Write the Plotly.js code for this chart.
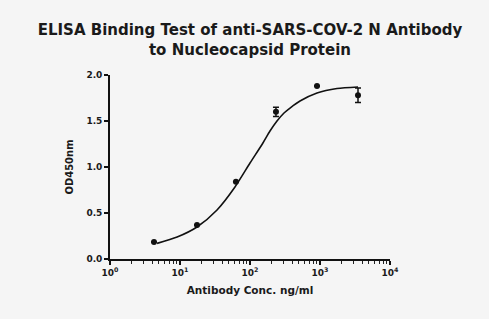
<!DOCTYPE html>
<html>
<head>
<meta charset="utf-8">
<script src="https://cdn.plot.ly/plotly-3.0.1.min.js"></script>
<style>html,body{margin:0;padding:0;background:#f5f5f5;}#chart{width:489px;height:319px;}</style>
</head>
<body>
<div id="chart"></div>
<script>
// Measured points (antibody concentration, ng/ml) and OD450nm
const concentrations = [4.25, 17.5, 63, 235, 906, 3490];
const od450 = [0.185, 0.37, 0.84, 1.60, 1.88, 1.78];
const odError = [0, 0, 0, 0.05, 0, 0.08];

// Fitted curve
const fitConc = [4.7, 9.1, 17.5, 33.8, 61, 100, 153, 193, 243, 306, 373, 518, 906, 1750, 3490];
const fitOD = [0.170, 0.239, 0.348, 0.533, 0.783, 1.043, 1.261, 1.391, 1.500, 1.587, 1.641, 1.717, 1.804, 1.853, 1.870];

const xTickVals = [1, 10, 100, 1000, 10000];
const xTickText = ['10<sup>0</sup>', '10<sup>1</sup>', '10<sup>2</sup>', '10<sup>3</sup>', '10<sup>4</sup>'];
const minorMultipliers = [2, 3, 4, 5, 6, 7, 8, 9];
const yTickVals = [0, 0.5, 1.0, 1.5, 2.0];

const minorVals = [];
xTickVals.slice(0, -1).forEach(d => minorMultipliers.forEach(m => minorVals.push(d * m)));

const fontFam = 'DejaVu Sans, Arial, sans-serif';

const traces = [
  {
    x: fitConc, y: fitOD, type: 'scatter', mode: 'lines',
    line: {color: '#111', width: 1.6, shape: 'spline', smoothing: 0.7},
    hoverinfo: 'skip', showlegend: false
  },
  {
    x: concentrations, y: od450, type: 'scatter', mode: 'markers',
    marker: {color: '#111', size: 6, symbol: 'circle'},
    error_y: {type: 'data', array: odError, visible: true, color: '#111', thickness: 1.5, width: 3},
    showlegend: false
  }
];

const layout = {
  width: 489, height: 319,
  margin: {l: 110, r: 99, t: 75, b: 60},
  paper_bgcolor: '#f5f5f5', plot_bgcolor: '#f5f5f5',
  font: {family: fontFam, color: '#1a1a1a'},
  title: {
    text: '<b>ELISA Binding Test of anti-SARS-COV-2 N Antibody<br>to Nucleocapsid Protein</b>',
    font: {family: fontFam, size: 15, color: '#1a1a1a'},
    x: 0.5, xanchor: 'center', xref: 'paper', y: 0.89, yanchor: 'top'
  },
  xaxis: {
    type: 'log', range: [0, 4],
    tickvals: xTickVals, ticktext: xTickText,
    ticks: 'outside', ticklen: 4, tickwidth: 1.5, tickcolor: '#111',
    minor: {tickvals: minorVals, ticks: 'outside', ticklen: 3, tickwidth: 1, tickcolor: '#222', showgrid: false},
    showline: true, linecolor: '#111', linewidth: 1.8,
    showgrid: false, zeroline: false,
    tickfont: {family: fontFam, size: 9, color: '#1a1a1a', weight: 'bold'},
    title: {text: '<b>Antibody Conc. ng/ml</b>', font: {family: fontFam, size: 10.5, color: '#1a1a1a'}, standoff: 10}
  },
  yaxis: {
    range: [0, 2],
    tickvals: yTickVals, tickformat: '.1f',
    ticks: 'outside', ticklen: 4, tickwidth: 1.5, tickcolor: '#111',
    showline: true, linecolor: '#111', linewidth: 1.8,
    showgrid: false, zeroline: false,
    tickfont: {family: fontFam, size: 9, color: '#1a1a1a', weight: 'bold'},
    title: {text: '<b>OD450nm</b>', font: {family: fontFam, size: 10, color: '#1a1a1a'}, standoff: 11}
  }
};

Plotly.newPlot('chart', traces, layout, {displayModeBar: false, staticPlot: true});
</script>
</body>
</html>
